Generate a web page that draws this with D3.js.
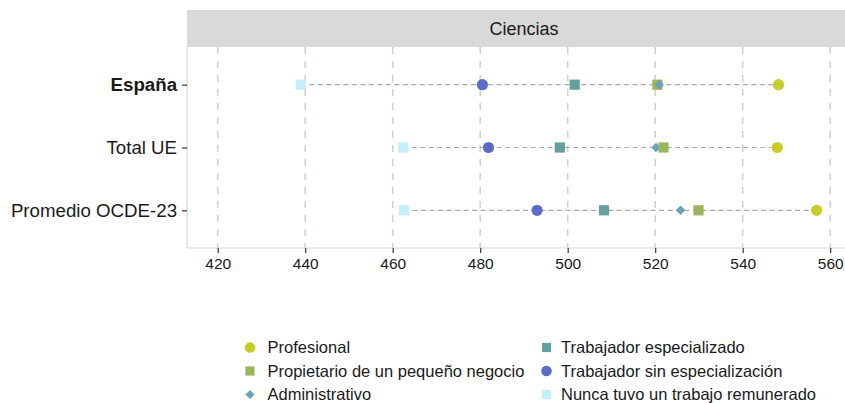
<!DOCTYPE html>
<html><head><meta charset="utf-8">
<script src="https://cdn.jsdelivr.net/npm/d3@7"></script>
<style>body{margin:0;background:#fff;} text{font-family:"Liberation Sans",Arial,Helvetica,sans-serif;}</style>
</head><body>
<svg id="chart" width="845" height="403"></svg>
<script>
const regions = ["España", "Total UE", "Promedio OCDE-23"];
const series = ["Profesional", "Propietario de un pequeño negocio", "Administrativo", "Trabajador especializado", "Trabajador sin especialización", "Nunca tuvo un trabajo remunerado"];
const profesional   = [548.2, 547.9, 556.9];
const propietario   = [520.5, 521.9, 529.9];
const administrativo= [520.9, 520.2, 525.8];
const especializado = [501.6, 498.2, 508.3];
const sinEspecial   = [480.5, 481.9, 493.0];
const nunca         = [439.0, 462.4, 462.6];
const xTicks = [420, 440, 460, 480, 500, 520, 540, 560];
const facetTitle = "Ciencias";

const values = [profesional, propietario, administrativo, especializado, sinEspecial, nunca];
const colors = ["#c8cc28", "#9ab65a", "#6aa2b8", "#64a0a0", "#5a6cc8", "#c4eefb"];
const shapes = ["circle", "square", "diamond", "square", "circle", "square"];

const svg = d3.select("#chart");
const x = d3.scaleLinear().domain([420, 560]).range([217.7, 830.2]);
const panelL = x(413), panelR = x(567);
const stripTop = 10, panelTop = 47, panelBot = 248;
const y = d3.scalePoint().domain(regions).range([panelTop, panelBot]).padding(0.6);

// strip
svg.append("rect").attr("x", panelL).attr("y", stripTop).attr("width", panelR - panelL).attr("height", panelTop - stripTop).attr("fill", "#d9d9d9");
svg.append("text").attr("x", (panelL + panelR) / 2).attr("y", (stripTop + panelTop) / 2 + 6.3).attr("text-anchor", "middle").attr("font-size", 18).attr("fill", "#1a1a1a").text(facetTitle);

// grid
svg.append("g").selectAll("line").data(xTicks).join("line")
  .attr("x1", d => x(d)).attr("x2", d => x(d)).attr("y1", panelTop).attr("y2", panelBot)
  .attr("stroke", "#d3d3c6").attr("stroke-width", 1.6).attr("stroke-dasharray", "7,7");

// axis lines
svg.append("line").attr("x1", panelL).attr("x2", panelL).attr("y1", panelTop).attr("y2", panelBot).attr("stroke", "#d9d9d0").attr("stroke-width", 1.2);
svg.append("line").attr("x1", panelL).attr("x2", panelR).attr("y1", panelBot).attr("y2", panelBot).attr("stroke", "#d9d9d0").attr("stroke-width", 1.2);

// x axis
const xAxis = d3.axisBottom(x).tickValues(xTicks).tickSize(5).tickPadding(5).tickFormat(d3.format("d"));
const gx = svg.append("g").attr("transform", `translate(0,${panelBot})`).call(xAxis);
gx.select(".domain").remove();
gx.selectAll(".tick line").attr("stroke", "#333").attr("stroke-width", 1.2);
gx.selectAll(".tick text").attr("font-size", 15.5).attr("fill", "#1a1a1a").attr("font-family", "Liberation Sans, Arial, sans-serif");

// y axis
const yAxis = d3.axisLeft(y).tickSize(5).tickPadding(5);
const gy = svg.append("g").attr("transform", `translate(${panelL},0)`).call(yAxis);
gy.select(".domain").remove();
gy.selectAll(".tick line").attr("stroke", "#333").attr("stroke-width", 1.2);
gy.selectAll(".tick text").attr("font-size", 18.7).attr("fill", "#1a1a1a").attr("font-family", "Liberation Sans, Arial, sans-serif")
  .attr("font-weight", d => d === "España" ? "bold" : "normal");

// range lines
const rows = regions.map((r, i) => {
  const pts = values.map((v, s) => ({ s, v: v[i] }));
  return { r, pts, min: d3.min(pts, p => p.v), max: d3.max(pts, p => p.v) };
});
svg.append("g").selectAll("line").data(rows).join("line")
  .attr("x1", d => x(d.min)).attr("x2", d => x(d.max)).attr("y1", d => y(d.r)).attr("y2", d => y(d.r))
  .attr("stroke", "#a8a8a8").attr("stroke-width", 1.2).attr("stroke-dasharray", "5,3.5");

function drawShape(g, shape, cx, cy, color, scale) {
  scale = scale || 1;
  if (shape === "circle") {
    g.append("circle").attr("cx", cx).attr("cy", cy).attr("r", 5.6 * scale).attr("fill", color);
  } else if (shape === "square") {
    const s = 10.2 * scale;
    g.append("rect").attr("x", cx - s / 2).attr("y", cy - s / 2).attr("width", s).attr("height", s).attr("fill", color);
  } else {
    const s = 4.8 * scale;
    g.append("path").attr("d", `M${cx},${cy - s}L${cx + s},${cy}L${cx},${cy + s}L${cx - s},${cy}Z`).attr("fill", color);
  }
}

const gp = svg.append("g");
rows.forEach(row => {
  const sorted = row.pts.slice().sort((a, b) => a.v - b.v);
  sorted.forEach(p => drawShape(gp, shapes[p.s], x(p.v), y(row.r), colors[p.s]));
});

// legend
const legCols = [250, 546.5];
const legTextCols = [267.5, 561];
const legRows = [347.5, 371, 394.5];
const gl = svg.append("g");
series.forEach((name, i) => {
  const col = i < 3 ? 0 : 1, row = i % 3;
  drawShape(gl, shapes[i], legCols[col], legRows[row], colors[i], shapes[i] === "square" ? 0.9 : 0.95);
  gl.append("text").attr("x", legTextCols[col]).attr("y", legRows[row] + 5.8).attr("font-size", 16.5).attr("fill", "#1a1a1a").text(name);
});
</script>
</body></html>
